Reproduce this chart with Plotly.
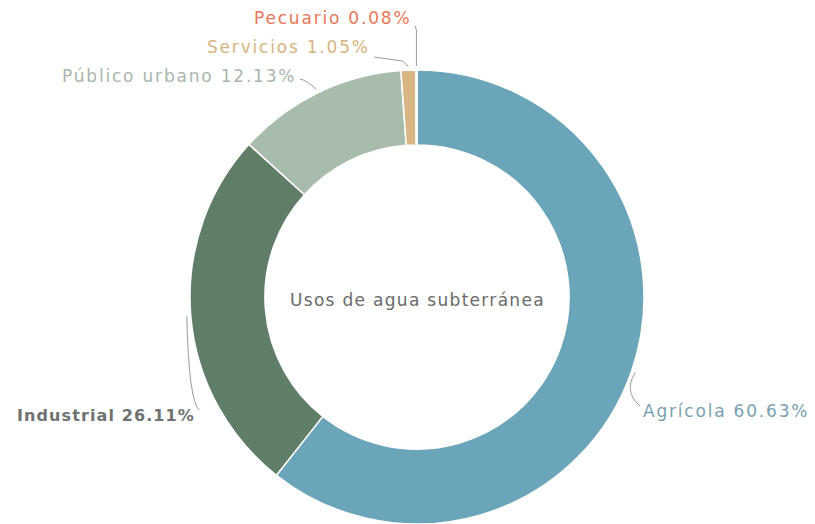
import math
import plotly.graph_objects as go

# Usos de agua subterránea (porcentaje del volumen concesionado)
categories = ["Agrícola", "Industrial", "Público urbano", "Servicios", "Pecuario"]
shares = [60.63, 26.11, 12.13, 1.05, 0.08]

slice_colors = ["#6aa5b9", "#5f7d67", "#a8bcab", "#d8b784", "#e8734f"]
label_colors = ["#7a9fb0", "#6e7270", "#a9b5ae", "#d6b482", "#e8775a"]

W, H = 815, 524
CX, CY, R_OUT = 417, 297, 227

# Label anchors (pixel position of the text edge nearest the ring) and side
label_anchor = {
    "Agrícola": (641, 411, "left"),
    "Industrial": (197, 415, "right"),
    "Público urbano": (298, 76, "right"),
    "Servicios": (372, 47, "right"),
    "Pecuario": (413, 18, "right"),
}
bold_labels = {"Industrial"}


def px(x, y):
    return x / W, 1 - y / H


fig = go.Figure(
    go.Pie(
        labels=categories,
        values=shares,
        marker=dict(colors=slice_colors, line=dict(color="white", width=1.5)),
        hole=0.67,
        sort=False,
        direction="clockwise",
        rotation=0,
        textinfo="none",
        hoverinfo="label+percent",
        showlegend=False,
        domain=dict(x=[(CX - R_OUT) / W, (CX + R_OUT) / W], y=[0, 2 * R_OUT / H]),
    )
)

# Mid-angle of each slice (clockwise from 12 o'clock)
total = sum(shares)
mids = []
acc = 0.0
for v in shares:
    mids.append((acc + v / 2) / total * 2 * math.pi)
    acc += v

annotations = []
shapes = []
for name, val, ang, col in zip(categories, shares, mids, label_colors):
    lx, ly, side = label_anchor[name]
    text = f"{name} {val:.2f}%"
    if name in bold_labels:
        weight, size, spacing = "bold", 16, 1.1
    else:
        weight, size, spacing = "normal", 17, 1.8
    ax_, ay_ = px(lx, ly)
    annotations.append(dict(
        x=ax_, y=ay_, xref="paper", yref="paper",
        text=f'<span style="letter-spacing:{spacing}px">{text}</span>',
        showarrow=False, xanchor=side, yanchor="middle",
        font=dict(family="DejaVu Sans", size=size, color=col, weight=weight),
    ))
    # leader line from the slice edge to its label
    sx = CX + (R_OUT + 4) * math.sin(ang)
    sy = CY - (R_OUT + 4) * math.cos(ang)
    ex = lx + (-1 if side == "left" else 2)
    ey = ly - 5
    if name == "Agrícola":
        cx_, cy_ = sx - 12, (sy + ey) / 2 + 2
        pts = [(sx, sy), (cx_, cy_), (ex, ey)]
        path = "M {} {} Q {} {} {} {}".format(*[c for p in pts for c in px(*p)])
    elif name == "Industrial":
        cx_, cy_ = sx + 2, ey - 10
        pts = [(sx, sy), (cx_, cy_), (ex, ey)]
        path = "M {} {} Q {} {} {} {}".format(*[c for p in pts for c in px(*p)])
    elif name == "Público urbano":
        ey = ly + 3
        cx_, cy_ = (sx + ex) / 2 - 2, ey + 1
        pts = [(ex, ey), (cx_, cy_), (sx, sy)]
        path = "M {} {} Q {} {} {} {}".format(*[c for p in pts for c in px(*p)])
    elif name == "Servicios":
        ey = ly + 10
        pts = [(ex, ey), (sx - 6, ey + 4), (sx, sy)]
        path = "M {} {} L {} {} L {} {}".format(*[c for p in pts for c in px(*p)])
    else:
        ey = ly + 8
        pts = [(ex, ey), (sx, ey + 4), (sx, sy)]
        path = "M {} {} L {} {} L {} {}".format(*[c for p in pts for c in px(*p)])
    shapes.append(dict(type="path", path=path, xref="paper", yref="paper",
                       line=dict(color="#9a9a9a", width=1)))

# Centre caption
cxp, cyp = px(CX, 300)
annotations.append(dict(
    x=cxp, y=cyp, xref="paper", yref="paper",
    text='<span style="letter-spacing:1.3px">Usos de agua subterránea</span>',
    showarrow=False, xanchor="center", yanchor="middle",
    font=dict(family="DejaVu Sans", size=17, color="#6a6a6a"),
))

fig.update_layout(
    width=W, height=H,
    margin=dict(l=0, r=0, t=0, b=0),
    paper_bgcolor="white", plot_bgcolor="white",
    annotations=annotations, shapes=shapes,
)

fig.write_html("out.html")
